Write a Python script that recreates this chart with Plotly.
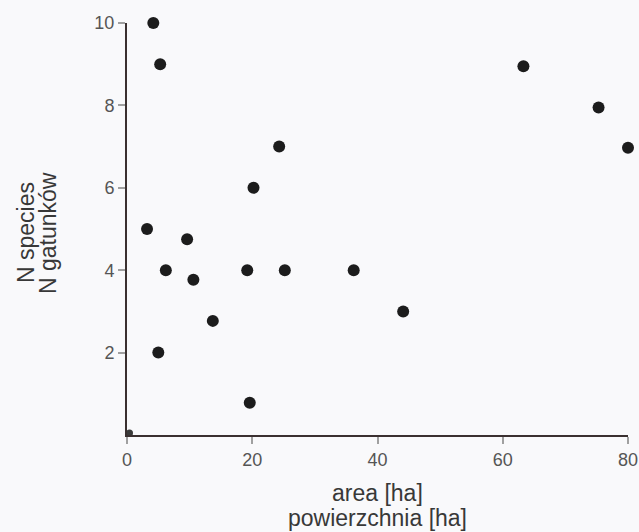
import plotly.graph_objects as go

# data
area_ha = [4.2, 5.3, 3.2, 9.6, 6.2, 10.6, 13.7, 5.0, 19.2, 19.6, 20.2, 24.3, 25.2, 36.2, 44.1, 63.3, 75.3, 80.0]
n_species = [10, 9, 5, 4.75, 4, 3.77, 2.77, 2, 4, 0.78, 6, 7, 4, 4, 3, 8.95, 7.95, 6.97]
origin_area = [0.4]
origin_species = [0.05]

x_ticks = [0, 20, 40, 60, 80]
y_ticks = [2, 4, 6, 8, 10]

W, H = 639, 532
L, T = 127, 23
R = W - 628
B = H - 435

fig = go.Figure()
fig.add_trace(go.Scatter(
    x=area_ha, y=n_species, mode="markers",
    marker=dict(size=12, color="#1c1c1c"),
    cliponaxis=False, showlegend=False, hoverinfo="skip",
))
fig.add_trace(go.Scatter(
    x=origin_area, y=origin_species, mode="markers",
    marker=dict(size=7, color="#3a3a3a"),
    cliponaxis=False, showlegend=False, hoverinfo="skip",
))

tickfont = dict(family="Liberation Sans, Arial, sans-serif", size=18, color="#555555")
axcol = "#3a3030"

fig.update_xaxes(
    range=[0, 80], tickvals=x_ticks, ticktext=[str(v) for v in x_ticks],
    showgrid=False, zeroline=False, showline=True, linecolor=axcol, linewidth=2,
    ticks="outside", ticklen=7, tickwidth=2, tickcolor="#a0a0a0",
    tickfont=tickfont, automargin=False,
)
fig.update_yaxes(
    range=[0, 10], tickvals=y_ticks, ticktext=[str(v) for v in y_ticks],
    showgrid=False, zeroline=False, showline=True, linecolor=axcol, linewidth=2,
    ticks="outside", ticklen=7, tickwidth=2, tickcolor="#a0a0a0",
    tickfont=tickfont, automargin=False,
)

pw = W - L - R
ph = H - T - B
titlefont = dict(family="Liberation Sans, Arial, sans-serif", size=23, color="#383838")

def px_x(p):
    return (p - L) / pw

def px_y(p):
    return (H - B - p) / ph

annotations = [
    dict(text="area [ha]", x=0.5, y=px_y(507), xref="paper", yref="paper",
         showarrow=False, xanchor="center", yanchor="bottom", font=titlefont,
         borderpad=0),
    dict(text="powierzchnia [ha]", x=0.5, y=px_y(532), xref="paper", yref="paper",
         showarrow=False, xanchor="center", yanchor="bottom", font=titlefont,
         borderpad=0),
    dict(text="N species", x=px_x(26), y=px_y(233), xref="paper", yref="paper",
         showarrow=False, xanchor="center", yanchor="middle", textangle=-90, font=titlefont),
    dict(text="N gatunków", x=px_x(48), y=px_y(233), xref="paper", yref="paper",
         showarrow=False, xanchor="center", yanchor="middle", textangle=-90, font=titlefont),
]

fig.update_layout(
    width=W, height=H,
    margin=dict(l=L, r=R, t=T, b=B, autoexpand=False),
    paper_bgcolor="#f9f9fb", plot_bgcolor="#f9f9fb",
    annotations=annotations,
    hovermode=False,
)

fig.write_html(
    "out.html",
    config={"displayModeBar": False},
    post_script="document.documentElement.style.overflow='hidden';"
                "document.body.style.margin='0';document.body.style.overflow='hidden';",
)
